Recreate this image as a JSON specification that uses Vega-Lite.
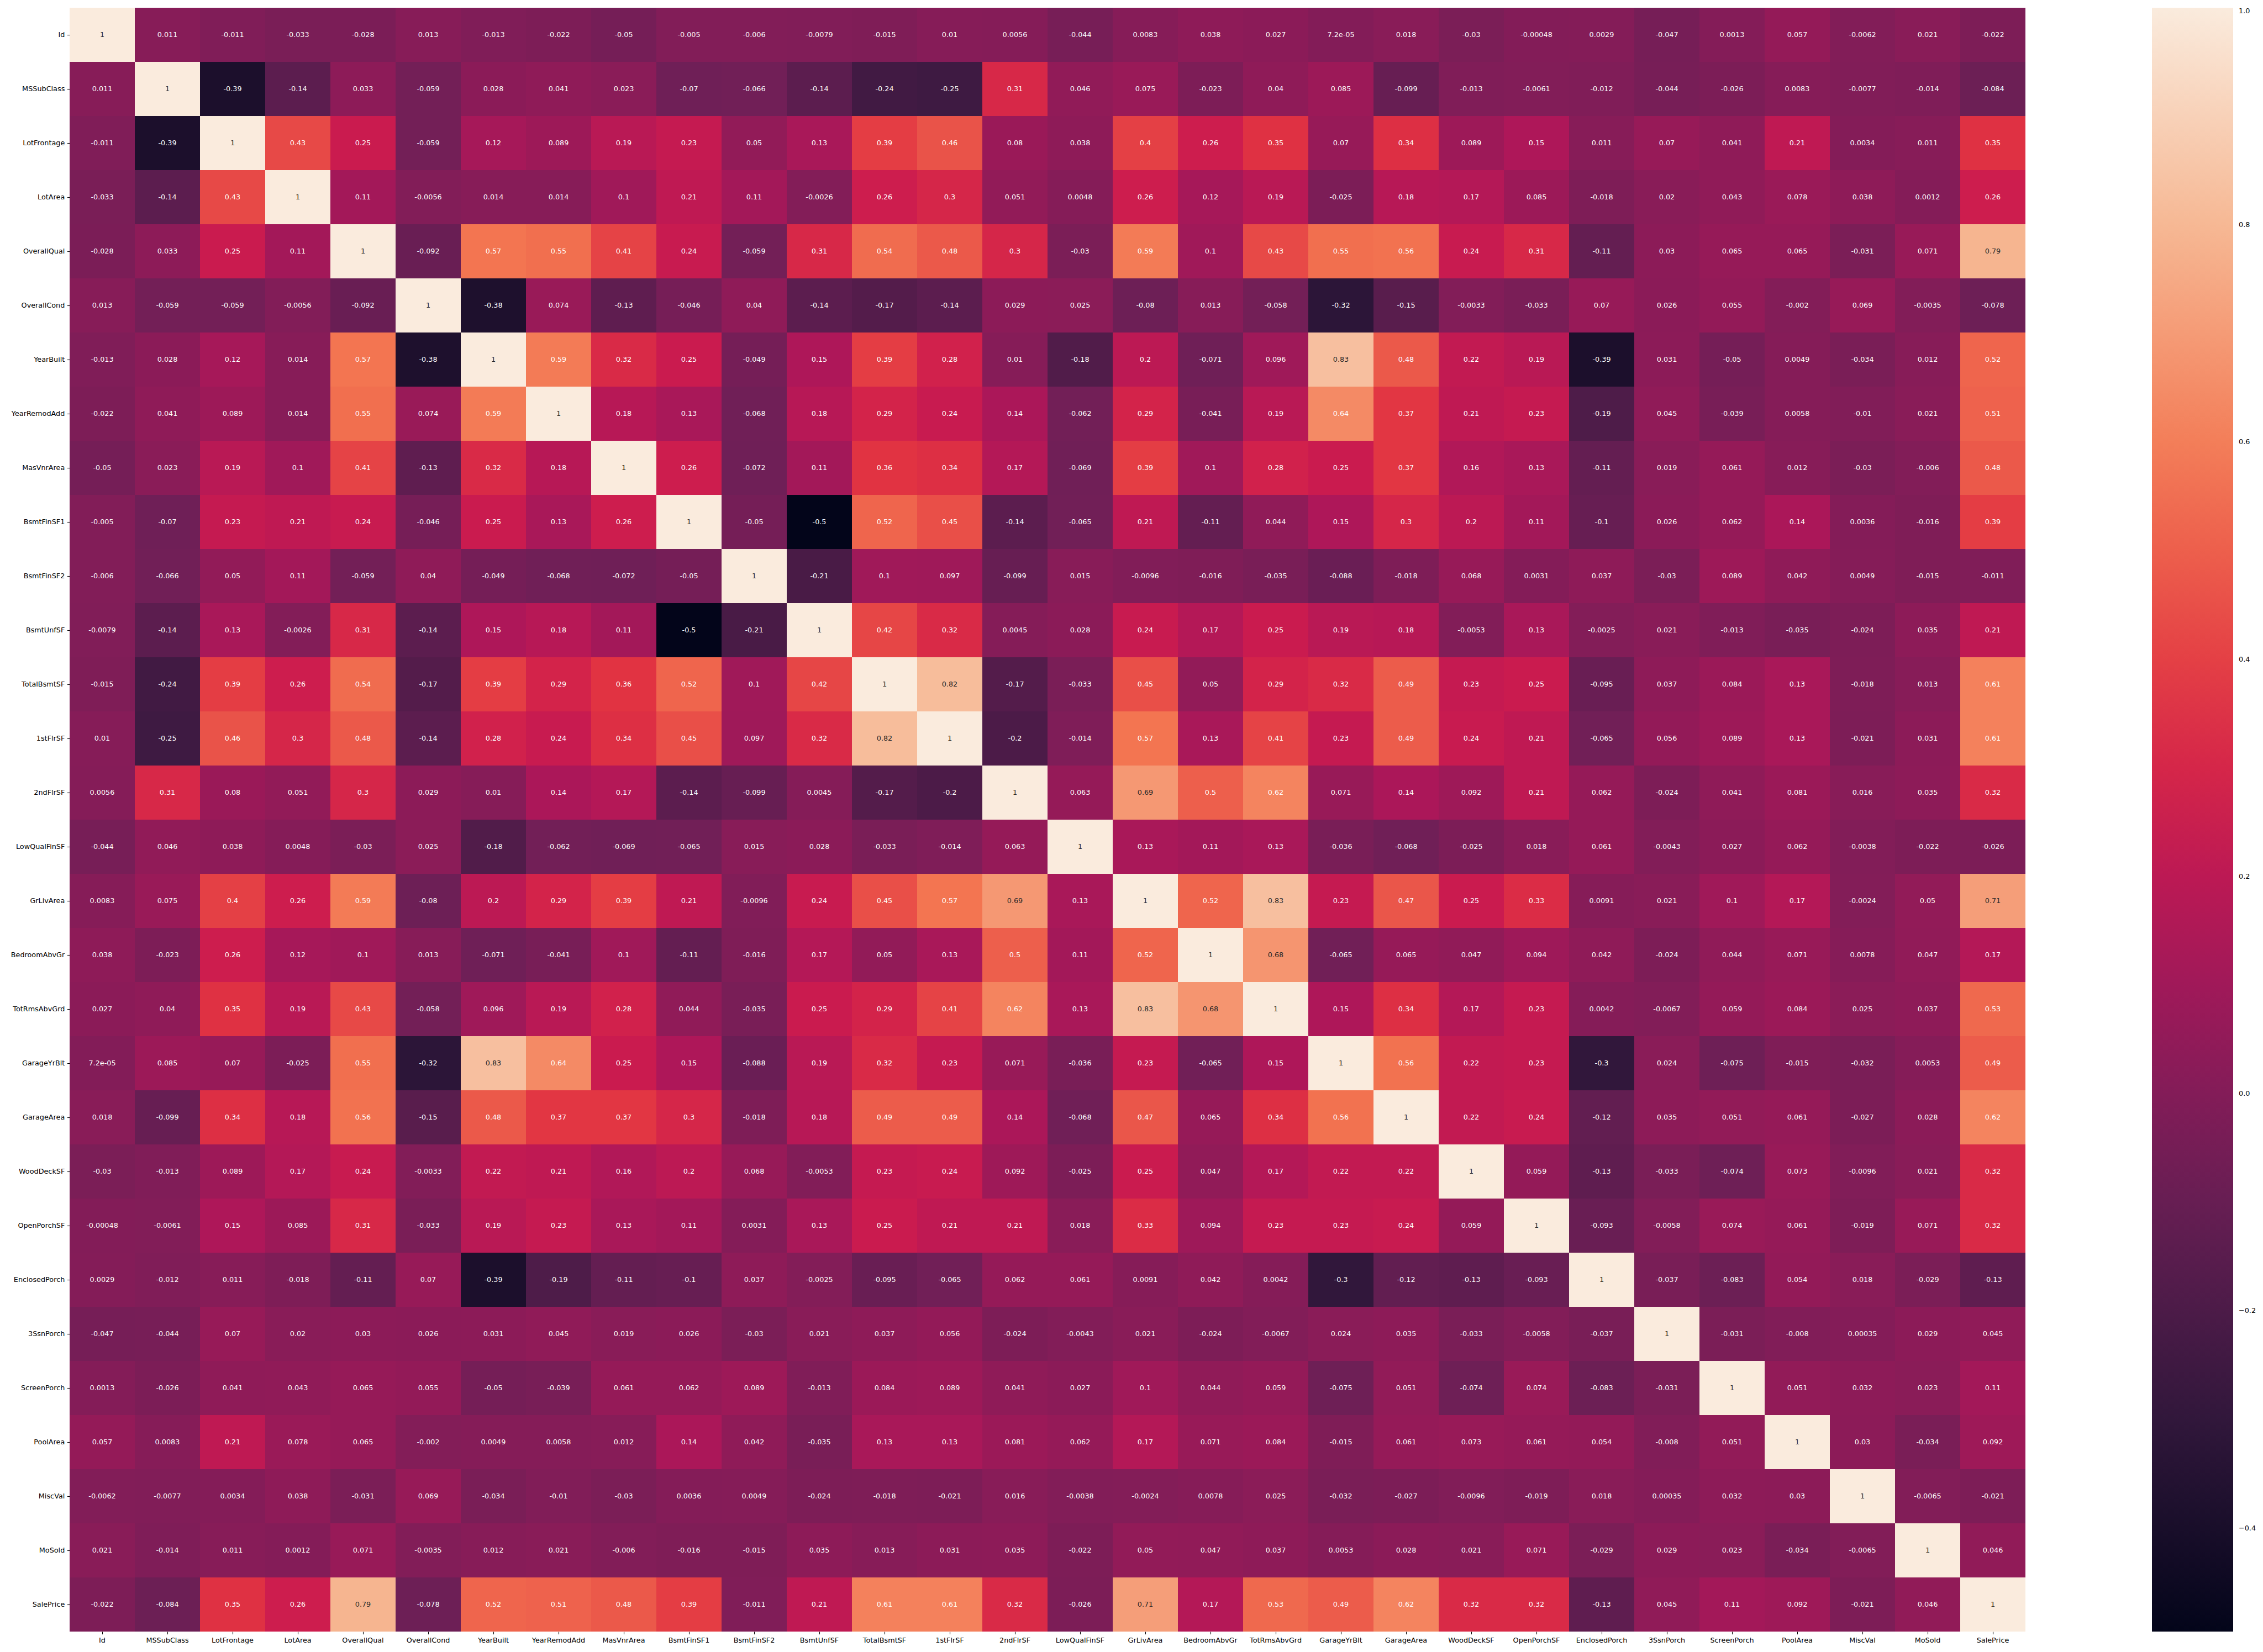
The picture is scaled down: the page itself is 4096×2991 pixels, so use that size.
{
"$schema": "https://vega.github.io/schema/vega-lite/v6.json",
"width": 3540,
"height": 2940,
"autosize": {"type": "none"},
"padding": {"left": 126, "top": 14, "right": 430, "bottom": 37},
"background": "white",
"config": {"view": {"stroke": null}, "font": "DejaVu Sans"},
"data": {"values": [
{"r":"Id","c":"Id","v":1,"t":"1"},{"r":"Id","c":"MSSubClass","v":0.011,"t":"0.011"},{"r":"Id","c":"LotFrontage","v":-0.011,"t":"-0.011"},{"r":"Id","c":"LotArea","v":-0.033,"t":"-0.033"},{"r":"Id","c":"OverallQual","v":-0.028,"t":"-0.028"},{"r":"Id","c":"OverallCond","v":0.013,"t":"0.013"},{"r":"Id","c":"YearBuilt","v":-0.013,"t":"-0.013"},{"r":"Id","c":"YearRemodAdd","v":-0.022,"t":"-0.022"},{"r":"Id","c":"MasVnrArea","v":-0.05,"t":"-0.05"},{"r":"Id","c":"BsmtFinSF1","v":-0.005,"t":"-0.005"},{"r":"Id","c":"BsmtFinSF2","v":-0.006,"t":"-0.006"},{"r":"Id","c":"BsmtUnfSF","v":-0.0079,"t":"-0.0079"},{"r":"Id","c":"TotalBsmtSF","v":-0.015,"t":"-0.015"},{"r":"Id","c":"1stFlrSF","v":0.01,"t":"0.01"},{"r":"Id","c":"2ndFlrSF","v":0.0056,"t":"0.0056"},{"r":"Id","c":"LowQualFinSF","v":-0.044,"t":"-0.044"},{"r":"Id","c":"GrLivArea","v":0.0083,"t":"0.0083"},{"r":"Id","c":"BedroomAbvGr","v":0.038,"t":"0.038"},{"r":"Id","c":"TotRmsAbvGrd","v":0.027,"t":"0.027"},{"r":"Id","c":"GarageYrBlt","v":7.2e-05,"t":"7.2e-05"},{"r":"Id","c":"GarageArea","v":0.018,"t":"0.018"},{"r":"Id","c":"WoodDeckSF","v":-0.03,"t":"-0.03"},{"r":"Id","c":"OpenPorchSF","v":-0.00048,"t":"-0.00048"},{"r":"Id","c":"EnclosedPorch","v":0.0029,"t":"0.0029"},{"r":"Id","c":"3SsnPorch","v":-0.047,"t":"-0.047"},{"r":"Id","c":"ScreenPorch","v":0.0013,"t":"0.0013"},{"r":"Id","c":"PoolArea","v":0.057,"t":"0.057"},{"r":"Id","c":"MiscVal","v":-0.0062,"t":"-0.0062"},{"r":"Id","c":"MoSold","v":0.021,"t":"0.021"},{"r":"Id","c":"SalePrice","v":-0.022,"t":"-0.022"},
{"r":"MSSubClass","c":"Id","v":0.011,"t":"0.011"},{"r":"MSSubClass","c":"MSSubClass","v":1,"t":"1"},{"r":"MSSubClass","c":"LotFrontage","v":-0.39,"t":"-0.39"},{"r":"MSSubClass","c":"LotArea","v":-0.14,"t":"-0.14"},{"r":"MSSubClass","c":"OverallQual","v":0.033,"t":"0.033"},{"r":"MSSubClass","c":"OverallCond","v":-0.059,"t":"-0.059"},{"r":"MSSubClass","c":"YearBuilt","v":0.028,"t":"0.028"},{"r":"MSSubClass","c":"YearRemodAdd","v":0.041,"t":"0.041"},{"r":"MSSubClass","c":"MasVnrArea","v":0.023,"t":"0.023"},{"r":"MSSubClass","c":"BsmtFinSF1","v":-0.07,"t":"-0.07"},{"r":"MSSubClass","c":"BsmtFinSF2","v":-0.066,"t":"-0.066"},{"r":"MSSubClass","c":"BsmtUnfSF","v":-0.14,"t":"-0.14"},{"r":"MSSubClass","c":"TotalBsmtSF","v":-0.24,"t":"-0.24"},{"r":"MSSubClass","c":"1stFlrSF","v":-0.25,"t":"-0.25"},{"r":"MSSubClass","c":"2ndFlrSF","v":0.31,"t":"0.31"},{"r":"MSSubClass","c":"LowQualFinSF","v":0.046,"t":"0.046"},{"r":"MSSubClass","c":"GrLivArea","v":0.075,"t":"0.075"},{"r":"MSSubClass","c":"BedroomAbvGr","v":-0.023,"t":"-0.023"},{"r":"MSSubClass","c":"TotRmsAbvGrd","v":0.04,"t":"0.04"},{"r":"MSSubClass","c":"GarageYrBlt","v":0.085,"t":"0.085"},{"r":"MSSubClass","c":"GarageArea","v":-0.099,"t":"-0.099"},{"r":"MSSubClass","c":"WoodDeckSF","v":-0.013,"t":"-0.013"},{"r":"MSSubClass","c":"OpenPorchSF","v":-0.0061,"t":"-0.0061"},{"r":"MSSubClass","c":"EnclosedPorch","v":-0.012,"t":"-0.012"},{"r":"MSSubClass","c":"3SsnPorch","v":-0.044,"t":"-0.044"},{"r":"MSSubClass","c":"ScreenPorch","v":-0.026,"t":"-0.026"},{"r":"MSSubClass","c":"PoolArea","v":0.0083,"t":"0.0083"},{"r":"MSSubClass","c":"MiscVal","v":-0.0077,"t":"-0.0077"},{"r":"MSSubClass","c":"MoSold","v":-0.014,"t":"-0.014"},{"r":"MSSubClass","c":"SalePrice","v":-0.084,"t":"-0.084"},
{"r":"LotFrontage","c":"Id","v":-0.011,"t":"-0.011"},{"r":"LotFrontage","c":"MSSubClass","v":-0.39,"t":"-0.39"},{"r":"LotFrontage","c":"LotFrontage","v":1,"t":"1"},{"r":"LotFrontage","c":"LotArea","v":0.43,"t":"0.43"},{"r":"LotFrontage","c":"OverallQual","v":0.25,"t":"0.25"},{"r":"LotFrontage","c":"OverallCond","v":-0.059,"t":"-0.059"},{"r":"LotFrontage","c":"YearBuilt","v":0.12,"t":"0.12"},{"r":"LotFrontage","c":"YearRemodAdd","v":0.089,"t":"0.089"},{"r":"LotFrontage","c":"MasVnrArea","v":0.19,"t":"0.19"},{"r":"LotFrontage","c":"BsmtFinSF1","v":0.23,"t":"0.23"},{"r":"LotFrontage","c":"BsmtFinSF2","v":0.05,"t":"0.05"},{"r":"LotFrontage","c":"BsmtUnfSF","v":0.13,"t":"0.13"},{"r":"LotFrontage","c":"TotalBsmtSF","v":0.39,"t":"0.39"},{"r":"LotFrontage","c":"1stFlrSF","v":0.46,"t":"0.46"},{"r":"LotFrontage","c":"2ndFlrSF","v":0.08,"t":"0.08"},{"r":"LotFrontage","c":"LowQualFinSF","v":0.038,"t":"0.038"},{"r":"LotFrontage","c":"GrLivArea","v":0.4,"t":"0.4"},{"r":"LotFrontage","c":"BedroomAbvGr","v":0.26,"t":"0.26"},{"r":"LotFrontage","c":"TotRmsAbvGrd","v":0.35,"t":"0.35"},{"r":"LotFrontage","c":"GarageYrBlt","v":0.07,"t":"0.07"},{"r":"LotFrontage","c":"GarageArea","v":0.34,"t":"0.34"},{"r":"LotFrontage","c":"WoodDeckSF","v":0.089,"t":"0.089"},{"r":"LotFrontage","c":"OpenPorchSF","v":0.15,"t":"0.15"},{"r":"LotFrontage","c":"EnclosedPorch","v":0.011,"t":"0.011"},{"r":"LotFrontage","c":"3SsnPorch","v":0.07,"t":"0.07"},{"r":"LotFrontage","c":"ScreenPorch","v":0.041,"t":"0.041"},{"r":"LotFrontage","c":"PoolArea","v":0.21,"t":"0.21"},{"r":"LotFrontage","c":"MiscVal","v":0.0034,"t":"0.0034"},{"r":"LotFrontage","c":"MoSold","v":0.011,"t":"0.011"},{"r":"LotFrontage","c":"SalePrice","v":0.35,"t":"0.35"},
{"r":"LotArea","c":"Id","v":-0.033,"t":"-0.033"},{"r":"LotArea","c":"MSSubClass","v":-0.14,"t":"-0.14"},{"r":"LotArea","c":"LotFrontage","v":0.43,"t":"0.43"},{"r":"LotArea","c":"LotArea","v":1,"t":"1"},{"r":"LotArea","c":"OverallQual","v":0.11,"t":"0.11"},{"r":"LotArea","c":"OverallCond","v":-0.0056,"t":"-0.0056"},{"r":"LotArea","c":"YearBuilt","v":0.014,"t":"0.014"},{"r":"LotArea","c":"YearRemodAdd","v":0.014,"t":"0.014"},{"r":"LotArea","c":"MasVnrArea","v":0.1,"t":"0.1"},{"r":"LotArea","c":"BsmtFinSF1","v":0.21,"t":"0.21"},{"r":"LotArea","c":"BsmtFinSF2","v":0.11,"t":"0.11"},{"r":"LotArea","c":"BsmtUnfSF","v":-0.0026,"t":"-0.0026"},{"r":"LotArea","c":"TotalBsmtSF","v":0.26,"t":"0.26"},{"r":"LotArea","c":"1stFlrSF","v":0.3,"t":"0.3"},{"r":"LotArea","c":"2ndFlrSF","v":0.051,"t":"0.051"},{"r":"LotArea","c":"LowQualFinSF","v":0.0048,"t":"0.0048"},{"r":"LotArea","c":"GrLivArea","v":0.26,"t":"0.26"},{"r":"LotArea","c":"BedroomAbvGr","v":0.12,"t":"0.12"},{"r":"LotArea","c":"TotRmsAbvGrd","v":0.19,"t":"0.19"},{"r":"LotArea","c":"GarageYrBlt","v":-0.025,"t":"-0.025"},{"r":"LotArea","c":"GarageArea","v":0.18,"t":"0.18"},{"r":"LotArea","c":"WoodDeckSF","v":0.17,"t":"0.17"},{"r":"LotArea","c":"OpenPorchSF","v":0.085,"t":"0.085"},{"r":"LotArea","c":"EnclosedPorch","v":-0.018,"t":"-0.018"},{"r":"LotArea","c":"3SsnPorch","v":0.02,"t":"0.02"},{"r":"LotArea","c":"ScreenPorch","v":0.043,"t":"0.043"},{"r":"LotArea","c":"PoolArea","v":0.078,"t":"0.078"},{"r":"LotArea","c":"MiscVal","v":0.038,"t":"0.038"},{"r":"LotArea","c":"MoSold","v":0.0012,"t":"0.0012"},{"r":"LotArea","c":"SalePrice","v":0.26,"t":"0.26"},
{"r":"OverallQual","c":"Id","v":-0.028,"t":"-0.028"},{"r":"OverallQual","c":"MSSubClass","v":0.033,"t":"0.033"},{"r":"OverallQual","c":"LotFrontage","v":0.25,"t":"0.25"},{"r":"OverallQual","c":"LotArea","v":0.11,"t":"0.11"},{"r":"OverallQual","c":"OverallQual","v":1,"t":"1"},{"r":"OverallQual","c":"OverallCond","v":-0.092,"t":"-0.092"},{"r":"OverallQual","c":"YearBuilt","v":0.57,"t":"0.57"},{"r":"OverallQual","c":"YearRemodAdd","v":0.55,"t":"0.55"},{"r":"OverallQual","c":"MasVnrArea","v":0.41,"t":"0.41"},{"r":"OverallQual","c":"BsmtFinSF1","v":0.24,"t":"0.24"},{"r":"OverallQual","c":"BsmtFinSF2","v":-0.059,"t":"-0.059"},{"r":"OverallQual","c":"BsmtUnfSF","v":0.31,"t":"0.31"},{"r":"OverallQual","c":"TotalBsmtSF","v":0.54,"t":"0.54"},{"r":"OverallQual","c":"1stFlrSF","v":0.48,"t":"0.48"},{"r":"OverallQual","c":"2ndFlrSF","v":0.3,"t":"0.3"},{"r":"OverallQual","c":"LowQualFinSF","v":-0.03,"t":"-0.03"},{"r":"OverallQual","c":"GrLivArea","v":0.59,"t":"0.59"},{"r":"OverallQual","c":"BedroomAbvGr","v":0.1,"t":"0.1"},{"r":"OverallQual","c":"TotRmsAbvGrd","v":0.43,"t":"0.43"},{"r":"OverallQual","c":"GarageYrBlt","v":0.55,"t":"0.55"},{"r":"OverallQual","c":"GarageArea","v":0.56,"t":"0.56"},{"r":"OverallQual","c":"WoodDeckSF","v":0.24,"t":"0.24"},{"r":"OverallQual","c":"OpenPorchSF","v":0.31,"t":"0.31"},{"r":"OverallQual","c":"EnclosedPorch","v":-0.11,"t":"-0.11"},{"r":"OverallQual","c":"3SsnPorch","v":0.03,"t":"0.03"},{"r":"OverallQual","c":"ScreenPorch","v":0.065,"t":"0.065"},{"r":"OverallQual","c":"PoolArea","v":0.065,"t":"0.065"},{"r":"OverallQual","c":"MiscVal","v":-0.031,"t":"-0.031"},{"r":"OverallQual","c":"MoSold","v":0.071,"t":"0.071"},{"r":"OverallQual","c":"SalePrice","v":0.79,"t":"0.79"},
{"r":"OverallCond","c":"Id","v":0.013,"t":"0.013"},{"r":"OverallCond","c":"MSSubClass","v":-0.059,"t":"-0.059"},{"r":"OverallCond","c":"LotFrontage","v":-0.059,"t":"-0.059"},{"r":"OverallCond","c":"LotArea","v":-0.0056,"t":"-0.0056"},{"r":"OverallCond","c":"OverallQual","v":-0.092,"t":"-0.092"},{"r":"OverallCond","c":"OverallCond","v":1,"t":"1"},{"r":"OverallCond","c":"YearBuilt","v":-0.38,"t":"-0.38"},{"r":"OverallCond","c":"YearRemodAdd","v":0.074,"t":"0.074"},{"r":"OverallCond","c":"MasVnrArea","v":-0.13,"t":"-0.13"},{"r":"OverallCond","c":"BsmtFinSF1","v":-0.046,"t":"-0.046"},{"r":"OverallCond","c":"BsmtFinSF2","v":0.04,"t":"0.04"},{"r":"OverallCond","c":"BsmtUnfSF","v":-0.14,"t":"-0.14"},{"r":"OverallCond","c":"TotalBsmtSF","v":-0.17,"t":"-0.17"},{"r":"OverallCond","c":"1stFlrSF","v":-0.14,"t":"-0.14"},{"r":"OverallCond","c":"2ndFlrSF","v":0.029,"t":"0.029"},{"r":"OverallCond","c":"LowQualFinSF","v":0.025,"t":"0.025"},{"r":"OverallCond","c":"GrLivArea","v":-0.08,"t":"-0.08"},{"r":"OverallCond","c":"BedroomAbvGr","v":0.013,"t":"0.013"},{"r":"OverallCond","c":"TotRmsAbvGrd","v":-0.058,"t":"-0.058"},{"r":"OverallCond","c":"GarageYrBlt","v":-0.32,"t":"-0.32"},{"r":"OverallCond","c":"GarageArea","v":-0.15,"t":"-0.15"},{"r":"OverallCond","c":"WoodDeckSF","v":-0.0033,"t":"-0.0033"},{"r":"OverallCond","c":"OpenPorchSF","v":-0.033,"t":"-0.033"},{"r":"OverallCond","c":"EnclosedPorch","v":0.07,"t":"0.07"},{"r":"OverallCond","c":"3SsnPorch","v":0.026,"t":"0.026"},{"r":"OverallCond","c":"ScreenPorch","v":0.055,"t":"0.055"},{"r":"OverallCond","c":"PoolArea","v":-0.002,"t":"-0.002"},{"r":"OverallCond","c":"MiscVal","v":0.069,"t":"0.069"},{"r":"OverallCond","c":"MoSold","v":-0.0035,"t":"-0.0035"},{"r":"OverallCond","c":"SalePrice","v":-0.078,"t":"-0.078"},
{"r":"YearBuilt","c":"Id","v":-0.013,"t":"-0.013"},{"r":"YearBuilt","c":"MSSubClass","v":0.028,"t":"0.028"},{"r":"YearBuilt","c":"LotFrontage","v":0.12,"t":"0.12"},{"r":"YearBuilt","c":"LotArea","v":0.014,"t":"0.014"},{"r":"YearBuilt","c":"OverallQual","v":0.57,"t":"0.57"},{"r":"YearBuilt","c":"OverallCond","v":-0.38,"t":"-0.38"},{"r":"YearBuilt","c":"YearBuilt","v":1,"t":"1"},{"r":"YearBuilt","c":"YearRemodAdd","v":0.59,"t":"0.59"},{"r":"YearBuilt","c":"MasVnrArea","v":0.32,"t":"0.32"},{"r":"YearBuilt","c":"BsmtFinSF1","v":0.25,"t":"0.25"},{"r":"YearBuilt","c":"BsmtFinSF2","v":-0.049,"t":"-0.049"},{"r":"YearBuilt","c":"BsmtUnfSF","v":0.15,"t":"0.15"},{"r":"YearBuilt","c":"TotalBsmtSF","v":0.39,"t":"0.39"},{"r":"YearBuilt","c":"1stFlrSF","v":0.28,"t":"0.28"},{"r":"YearBuilt","c":"2ndFlrSF","v":0.01,"t":"0.01"},{"r":"YearBuilt","c":"LowQualFinSF","v":-0.18,"t":"-0.18"},{"r":"YearBuilt","c":"GrLivArea","v":0.2,"t":"0.2"},{"r":"YearBuilt","c":"BedroomAbvGr","v":-0.071,"t":"-0.071"},{"r":"YearBuilt","c":"TotRmsAbvGrd","v":0.096,"t":"0.096"},{"r":"YearBuilt","c":"GarageYrBlt","v":0.83,"t":"0.83"},{"r":"YearBuilt","c":"GarageArea","v":0.48,"t":"0.48"},{"r":"YearBuilt","c":"WoodDeckSF","v":0.22,"t":"0.22"},{"r":"YearBuilt","c":"OpenPorchSF","v":0.19,"t":"0.19"},{"r":"YearBuilt","c":"EnclosedPorch","v":-0.39,"t":"-0.39"},{"r":"YearBuilt","c":"3SsnPorch","v":0.031,"t":"0.031"},{"r":"YearBuilt","c":"ScreenPorch","v":-0.05,"t":"-0.05"},{"r":"YearBuilt","c":"PoolArea","v":0.0049,"t":"0.0049"},{"r":"YearBuilt","c":"MiscVal","v":-0.034,"t":"-0.034"},{"r":"YearBuilt","c":"MoSold","v":0.012,"t":"0.012"},{"r":"YearBuilt","c":"SalePrice","v":0.52,"t":"0.52"},
{"r":"YearRemodAdd","c":"Id","v":-0.022,"t":"-0.022"},{"r":"YearRemodAdd","c":"MSSubClass","v":0.041,"t":"0.041"},{"r":"YearRemodAdd","c":"LotFrontage","v":0.089,"t":"0.089"},{"r":"YearRemodAdd","c":"LotArea","v":0.014,"t":"0.014"},{"r":"YearRemodAdd","c":"OverallQual","v":0.55,"t":"0.55"},{"r":"YearRemodAdd","c":"OverallCond","v":0.074,"t":"0.074"},{"r":"YearRemodAdd","c":"YearBuilt","v":0.59,"t":"0.59"},{"r":"YearRemodAdd","c":"YearRemodAdd","v":1,"t":"1"},{"r":"YearRemodAdd","c":"MasVnrArea","v":0.18,"t":"0.18"},{"r":"YearRemodAdd","c":"BsmtFinSF1","v":0.13,"t":"0.13"},{"r":"YearRemodAdd","c":"BsmtFinSF2","v":-0.068,"t":"-0.068"},{"r":"YearRemodAdd","c":"BsmtUnfSF","v":0.18,"t":"0.18"},{"r":"YearRemodAdd","c":"TotalBsmtSF","v":0.29,"t":"0.29"},{"r":"YearRemodAdd","c":"1stFlrSF","v":0.24,"t":"0.24"},{"r":"YearRemodAdd","c":"2ndFlrSF","v":0.14,"t":"0.14"},{"r":"YearRemodAdd","c":"LowQualFinSF","v":-0.062,"t":"-0.062"},{"r":"YearRemodAdd","c":"GrLivArea","v":0.29,"t":"0.29"},{"r":"YearRemodAdd","c":"BedroomAbvGr","v":-0.041,"t":"-0.041"},{"r":"YearRemodAdd","c":"TotRmsAbvGrd","v":0.19,"t":"0.19"},{"r":"YearRemodAdd","c":"GarageYrBlt","v":0.64,"t":"0.64"},{"r":"YearRemodAdd","c":"GarageArea","v":0.37,"t":"0.37"},{"r":"YearRemodAdd","c":"WoodDeckSF","v":0.21,"t":"0.21"},{"r":"YearRemodAdd","c":"OpenPorchSF","v":0.23,"t":"0.23"},{"r":"YearRemodAdd","c":"EnclosedPorch","v":-0.19,"t":"-0.19"},{"r":"YearRemodAdd","c":"3SsnPorch","v":0.045,"t":"0.045"},{"r":"YearRemodAdd","c":"ScreenPorch","v":-0.039,"t":"-0.039"},{"r":"YearRemodAdd","c":"PoolArea","v":0.0058,"t":"0.0058"},{"r":"YearRemodAdd","c":"MiscVal","v":-0.01,"t":"-0.01"},{"r":"YearRemodAdd","c":"MoSold","v":0.021,"t":"0.021"},{"r":"YearRemodAdd","c":"SalePrice","v":0.51,"t":"0.51"},
{"r":"MasVnrArea","c":"Id","v":-0.05,"t":"-0.05"},{"r":"MasVnrArea","c":"MSSubClass","v":0.023,"t":"0.023"},{"r":"MasVnrArea","c":"LotFrontage","v":0.19,"t":"0.19"},{"r":"MasVnrArea","c":"LotArea","v":0.1,"t":"0.1"},{"r":"MasVnrArea","c":"OverallQual","v":0.41,"t":"0.41"},{"r":"MasVnrArea","c":"OverallCond","v":-0.13,"t":"-0.13"},{"r":"MasVnrArea","c":"YearBuilt","v":0.32,"t":"0.32"},{"r":"MasVnrArea","c":"YearRemodAdd","v":0.18,"t":"0.18"},{"r":"MasVnrArea","c":"MasVnrArea","v":1,"t":"1"},{"r":"MasVnrArea","c":"BsmtFinSF1","v":0.26,"t":"0.26"},{"r":"MasVnrArea","c":"BsmtFinSF2","v":-0.072,"t":"-0.072"},{"r":"MasVnrArea","c":"BsmtUnfSF","v":0.11,"t":"0.11"},{"r":"MasVnrArea","c":"TotalBsmtSF","v":0.36,"t":"0.36"},{"r":"MasVnrArea","c":"1stFlrSF","v":0.34,"t":"0.34"},{"r":"MasVnrArea","c":"2ndFlrSF","v":0.17,"t":"0.17"},{"r":"MasVnrArea","c":"LowQualFinSF","v":-0.069,"t":"-0.069"},{"r":"MasVnrArea","c":"GrLivArea","v":0.39,"t":"0.39"},{"r":"MasVnrArea","c":"BedroomAbvGr","v":0.1,"t":"0.1"},{"r":"MasVnrArea","c":"TotRmsAbvGrd","v":0.28,"t":"0.28"},{"r":"MasVnrArea","c":"GarageYrBlt","v":0.25,"t":"0.25"},{"r":"MasVnrArea","c":"GarageArea","v":0.37,"t":"0.37"},{"r":"MasVnrArea","c":"WoodDeckSF","v":0.16,"t":"0.16"},{"r":"MasVnrArea","c":"OpenPorchSF","v":0.13,"t":"0.13"},{"r":"MasVnrArea","c":"EnclosedPorch","v":-0.11,"t":"-0.11"},{"r":"MasVnrArea","c":"3SsnPorch","v":0.019,"t":"0.019"},{"r":"MasVnrArea","c":"ScreenPorch","v":0.061,"t":"0.061"},{"r":"MasVnrArea","c":"PoolArea","v":0.012,"t":"0.012"},{"r":"MasVnrArea","c":"MiscVal","v":-0.03,"t":"-0.03"},{"r":"MasVnrArea","c":"MoSold","v":-0.006,"t":"-0.006"},{"r":"MasVnrArea","c":"SalePrice","v":0.48,"t":"0.48"},
{"r":"BsmtFinSF1","c":"Id","v":-0.005,"t":"-0.005"},{"r":"BsmtFinSF1","c":"MSSubClass","v":-0.07,"t":"-0.07"},{"r":"BsmtFinSF1","c":"LotFrontage","v":0.23,"t":"0.23"},{"r":"BsmtFinSF1","c":"LotArea","v":0.21,"t":"0.21"},{"r":"BsmtFinSF1","c":"OverallQual","v":0.24,"t":"0.24"},{"r":"BsmtFinSF1","c":"OverallCond","v":-0.046,"t":"-0.046"},{"r":"BsmtFinSF1","c":"YearBuilt","v":0.25,"t":"0.25"},{"r":"BsmtFinSF1","c":"YearRemodAdd","v":0.13,"t":"0.13"},{"r":"BsmtFinSF1","c":"MasVnrArea","v":0.26,"t":"0.26"},{"r":"BsmtFinSF1","c":"BsmtFinSF1","v":1,"t":"1"},{"r":"BsmtFinSF1","c":"BsmtFinSF2","v":-0.05,"t":"-0.05"},{"r":"BsmtFinSF1","c":"BsmtUnfSF","v":-0.495,"t":"-0.5"},{"r":"BsmtFinSF1","c":"TotalBsmtSF","v":0.52,"t":"0.52"},{"r":"BsmtFinSF1","c":"1stFlrSF","v":0.45,"t":"0.45"},{"r":"BsmtFinSF1","c":"2ndFlrSF","v":-0.14,"t":"-0.14"},{"r":"BsmtFinSF1","c":"LowQualFinSF","v":-0.065,"t":"-0.065"},{"r":"BsmtFinSF1","c":"GrLivArea","v":0.21,"t":"0.21"},{"r":"BsmtFinSF1","c":"BedroomAbvGr","v":-0.11,"t":"-0.11"},{"r":"BsmtFinSF1","c":"TotRmsAbvGrd","v":0.044,"t":"0.044"},{"r":"BsmtFinSF1","c":"GarageYrBlt","v":0.15,"t":"0.15"},{"r":"BsmtFinSF1","c":"GarageArea","v":0.3,"t":"0.3"},{"r":"BsmtFinSF1","c":"WoodDeckSF","v":0.2,"t":"0.2"},{"r":"BsmtFinSF1","c":"OpenPorchSF","v":0.11,"t":"0.11"},{"r":"BsmtFinSF1","c":"EnclosedPorch","v":-0.1,"t":"-0.1"},{"r":"BsmtFinSF1","c":"3SsnPorch","v":0.026,"t":"0.026"},{"r":"BsmtFinSF1","c":"ScreenPorch","v":0.062,"t":"0.062"},{"r":"BsmtFinSF1","c":"PoolArea","v":0.14,"t":"0.14"},{"r":"BsmtFinSF1","c":"MiscVal","v":0.0036,"t":"0.0036"},{"r":"BsmtFinSF1","c":"MoSold","v":-0.016,"t":"-0.016"},{"r":"BsmtFinSF1","c":"SalePrice","v":0.39,"t":"0.39"},
{"r":"BsmtFinSF2","c":"Id","v":-0.006,"t":"-0.006"},{"r":"BsmtFinSF2","c":"MSSubClass","v":-0.066,"t":"-0.066"},{"r":"BsmtFinSF2","c":"LotFrontage","v":0.05,"t":"0.05"},{"r":"BsmtFinSF2","c":"LotArea","v":0.11,"t":"0.11"},{"r":"BsmtFinSF2","c":"OverallQual","v":-0.059,"t":"-0.059"},{"r":"BsmtFinSF2","c":"OverallCond","v":0.04,"t":"0.04"},{"r":"BsmtFinSF2","c":"YearBuilt","v":-0.049,"t":"-0.049"},{"r":"BsmtFinSF2","c":"YearRemodAdd","v":-0.068,"t":"-0.068"},{"r":"BsmtFinSF2","c":"MasVnrArea","v":-0.072,"t":"-0.072"},{"r":"BsmtFinSF2","c":"BsmtFinSF1","v":-0.05,"t":"-0.05"},{"r":"BsmtFinSF2","c":"BsmtFinSF2","v":1,"t":"1"},{"r":"BsmtFinSF2","c":"BsmtUnfSF","v":-0.21,"t":"-0.21"},{"r":"BsmtFinSF2","c":"TotalBsmtSF","v":0.1,"t":"0.1"},{"r":"BsmtFinSF2","c":"1stFlrSF","v":0.097,"t":"0.097"},{"r":"BsmtFinSF2","c":"2ndFlrSF","v":-0.099,"t":"-0.099"},{"r":"BsmtFinSF2","c":"LowQualFinSF","v":0.015,"t":"0.015"},{"r":"BsmtFinSF2","c":"GrLivArea","v":-0.0096,"t":"-0.0096"},{"r":"BsmtFinSF2","c":"BedroomAbvGr","v":-0.016,"t":"-0.016"},{"r":"BsmtFinSF2","c":"TotRmsAbvGrd","v":-0.035,"t":"-0.035"},{"r":"BsmtFinSF2","c":"GarageYrBlt","v":-0.088,"t":"-0.088"},{"r":"BsmtFinSF2","c":"GarageArea","v":-0.018,"t":"-0.018"},{"r":"BsmtFinSF2","c":"WoodDeckSF","v":0.068,"t":"0.068"},{"r":"BsmtFinSF2","c":"OpenPorchSF","v":0.0031,"t":"0.0031"},{"r":"BsmtFinSF2","c":"EnclosedPorch","v":0.037,"t":"0.037"},{"r":"BsmtFinSF2","c":"3SsnPorch","v":-0.03,"t":"-0.03"},{"r":"BsmtFinSF2","c":"ScreenPorch","v":0.089,"t":"0.089"},{"r":"BsmtFinSF2","c":"PoolArea","v":0.042,"t":"0.042"},{"r":"BsmtFinSF2","c":"MiscVal","v":0.0049,"t":"0.0049"},{"r":"BsmtFinSF2","c":"MoSold","v":-0.015,"t":"-0.015"},{"r":"BsmtFinSF2","c":"SalePrice","v":-0.011,"t":"-0.011"},
{"r":"BsmtUnfSF","c":"Id","v":-0.0079,"t":"-0.0079"},{"r":"BsmtUnfSF","c":"MSSubClass","v":-0.14,"t":"-0.14"},{"r":"BsmtUnfSF","c":"LotFrontage","v":0.13,"t":"0.13"},{"r":"BsmtUnfSF","c":"LotArea","v":-0.0026,"t":"-0.0026"},{"r":"BsmtUnfSF","c":"OverallQual","v":0.31,"t":"0.31"},{"r":"BsmtUnfSF","c":"OverallCond","v":-0.14,"t":"-0.14"},{"r":"BsmtUnfSF","c":"YearBuilt","v":0.15,"t":"0.15"},{"r":"BsmtUnfSF","c":"YearRemodAdd","v":0.18,"t":"0.18"},{"r":"BsmtUnfSF","c":"MasVnrArea","v":0.11,"t":"0.11"},{"r":"BsmtUnfSF","c":"BsmtFinSF1","v":-0.495,"t":"-0.5"},{"r":"BsmtUnfSF","c":"BsmtFinSF2","v":-0.21,"t":"-0.21"},{"r":"BsmtUnfSF","c":"BsmtUnfSF","v":1,"t":"1"},{"r":"BsmtUnfSF","c":"TotalBsmtSF","v":0.42,"t":"0.42"},{"r":"BsmtUnfSF","c":"1stFlrSF","v":0.32,"t":"0.32"},{"r":"BsmtUnfSF","c":"2ndFlrSF","v":0.0045,"t":"0.0045"},{"r":"BsmtUnfSF","c":"LowQualFinSF","v":0.028,"t":"0.028"},{"r":"BsmtUnfSF","c":"GrLivArea","v":0.24,"t":"0.24"},{"r":"BsmtUnfSF","c":"BedroomAbvGr","v":0.17,"t":"0.17"},{"r":"BsmtUnfSF","c":"TotRmsAbvGrd","v":0.25,"t":"0.25"},{"r":"BsmtUnfSF","c":"GarageYrBlt","v":0.19,"t":"0.19"},{"r":"BsmtUnfSF","c":"GarageArea","v":0.18,"t":"0.18"},{"r":"BsmtUnfSF","c":"WoodDeckSF","v":-0.0053,"t":"-0.0053"},{"r":"BsmtUnfSF","c":"OpenPorchSF","v":0.13,"t":"0.13"},{"r":"BsmtUnfSF","c":"EnclosedPorch","v":-0.0025,"t":"-0.0025"},{"r":"BsmtUnfSF","c":"3SsnPorch","v":0.021,"t":"0.021"},{"r":"BsmtUnfSF","c":"ScreenPorch","v":-0.013,"t":"-0.013"},{"r":"BsmtUnfSF","c":"PoolArea","v":-0.035,"t":"-0.035"},{"r":"BsmtUnfSF","c":"MiscVal","v":-0.024,"t":"-0.024"},{"r":"BsmtUnfSF","c":"MoSold","v":0.035,"t":"0.035"},{"r":"BsmtUnfSF","c":"SalePrice","v":0.21,"t":"0.21"},
{"r":"TotalBsmtSF","c":"Id","v":-0.015,"t":"-0.015"},{"r":"TotalBsmtSF","c":"MSSubClass","v":-0.24,"t":"-0.24"},{"r":"TotalBsmtSF","c":"LotFrontage","v":0.39,"t":"0.39"},{"r":"TotalBsmtSF","c":"LotArea","v":0.26,"t":"0.26"},{"r":"TotalBsmtSF","c":"OverallQual","v":0.54,"t":"0.54"},{"r":"TotalBsmtSF","c":"OverallCond","v":-0.17,"t":"-0.17"},{"r":"TotalBsmtSF","c":"YearBuilt","v":0.39,"t":"0.39"},{"r":"TotalBsmtSF","c":"YearRemodAdd","v":0.29,"t":"0.29"},{"r":"TotalBsmtSF","c":"MasVnrArea","v":0.36,"t":"0.36"},{"r":"TotalBsmtSF","c":"BsmtFinSF1","v":0.52,"t":"0.52"},{"r":"TotalBsmtSF","c":"BsmtFinSF2","v":0.1,"t":"0.1"},{"r":"TotalBsmtSF","c":"BsmtUnfSF","v":0.42,"t":"0.42"},{"r":"TotalBsmtSF","c":"TotalBsmtSF","v":1,"t":"1"},{"r":"TotalBsmtSF","c":"1stFlrSF","v":0.82,"t":"0.82"},{"r":"TotalBsmtSF","c":"2ndFlrSF","v":-0.17,"t":"-0.17"},{"r":"TotalBsmtSF","c":"LowQualFinSF","v":-0.033,"t":"-0.033"},{"r":"TotalBsmtSF","c":"GrLivArea","v":0.45,"t":"0.45"},{"r":"TotalBsmtSF","c":"BedroomAbvGr","v":0.05,"t":"0.05"},{"r":"TotalBsmtSF","c":"TotRmsAbvGrd","v":0.29,"t":"0.29"},{"r":"TotalBsmtSF","c":"GarageYrBlt","v":0.32,"t":"0.32"},{"r":"TotalBsmtSF","c":"GarageArea","v":0.49,"t":"0.49"},{"r":"TotalBsmtSF","c":"WoodDeckSF","v":0.23,"t":"0.23"},{"r":"TotalBsmtSF","c":"OpenPorchSF","v":0.25,"t":"0.25"},{"r":"TotalBsmtSF","c":"EnclosedPorch","v":-0.095,"t":"-0.095"},{"r":"TotalBsmtSF","c":"3SsnPorch","v":0.037,"t":"0.037"},{"r":"TotalBsmtSF","c":"ScreenPorch","v":0.084,"t":"0.084"},{"r":"TotalBsmtSF","c":"PoolArea","v":0.13,"t":"0.13"},{"r":"TotalBsmtSF","c":"MiscVal","v":-0.018,"t":"-0.018"},{"r":"TotalBsmtSF","c":"MoSold","v":0.013,"t":"0.013"},{"r":"TotalBsmtSF","c":"SalePrice","v":0.61,"t":"0.61"},
{"r":"1stFlrSF","c":"Id","v":0.01,"t":"0.01"},{"r":"1stFlrSF","c":"MSSubClass","v":-0.25,"t":"-0.25"},{"r":"1stFlrSF","c":"LotFrontage","v":0.46,"t":"0.46"},{"r":"1stFlrSF","c":"LotArea","v":0.3,"t":"0.3"},{"r":"1stFlrSF","c":"OverallQual","v":0.48,"t":"0.48"},{"r":"1stFlrSF","c":"OverallCond","v":-0.14,"t":"-0.14"},{"r":"1stFlrSF","c":"YearBuilt","v":0.28,"t":"0.28"},{"r":"1stFlrSF","c":"YearRemodAdd","v":0.24,"t":"0.24"},{"r":"1stFlrSF","c":"MasVnrArea","v":0.34,"t":"0.34"},{"r":"1stFlrSF","c":"BsmtFinSF1","v":0.45,"t":"0.45"},{"r":"1stFlrSF","c":"BsmtFinSF2","v":0.097,"t":"0.097"},{"r":"1stFlrSF","c":"BsmtUnfSF","v":0.32,"t":"0.32"},{"r":"1stFlrSF","c":"TotalBsmtSF","v":0.82,"t":"0.82"},{"r":"1stFlrSF","c":"1stFlrSF","v":1,"t":"1"},{"r":"1stFlrSF","c":"2ndFlrSF","v":-0.2,"t":"-0.2"},{"r":"1stFlrSF","c":"LowQualFinSF","v":-0.014,"t":"-0.014"},{"r":"1stFlrSF","c":"GrLivArea","v":0.57,"t":"0.57"},{"r":"1stFlrSF","c":"BedroomAbvGr","v":0.13,"t":"0.13"},{"r":"1stFlrSF","c":"TotRmsAbvGrd","v":0.41,"t":"0.41"},{"r":"1stFlrSF","c":"GarageYrBlt","v":0.23,"t":"0.23"},{"r":"1stFlrSF","c":"GarageArea","v":0.49,"t":"0.49"},{"r":"1stFlrSF","c":"WoodDeckSF","v":0.24,"t":"0.24"},{"r":"1stFlrSF","c":"OpenPorchSF","v":0.21,"t":"0.21"},{"r":"1stFlrSF","c":"EnclosedPorch","v":-0.065,"t":"-0.065"},{"r":"1stFlrSF","c":"3SsnPorch","v":0.056,"t":"0.056"},{"r":"1stFlrSF","c":"ScreenPorch","v":0.089,"t":"0.089"},{"r":"1stFlrSF","c":"PoolArea","v":0.13,"t":"0.13"},{"r":"1stFlrSF","c":"MiscVal","v":-0.021,"t":"-0.021"},{"r":"1stFlrSF","c":"MoSold","v":0.031,"t":"0.031"},{"r":"1stFlrSF","c":"SalePrice","v":0.61,"t":"0.61"},
{"r":"2ndFlrSF","c":"Id","v":0.0056,"t":"0.0056"},{"r":"2ndFlrSF","c":"MSSubClass","v":0.31,"t":"0.31"},{"r":"2ndFlrSF","c":"LotFrontage","v":0.08,"t":"0.08"},{"r":"2ndFlrSF","c":"LotArea","v":0.051,"t":"0.051"},{"r":"2ndFlrSF","c":"OverallQual","v":0.3,"t":"0.3"},{"r":"2ndFlrSF","c":"OverallCond","v":0.029,"t":"0.029"},{"r":"2ndFlrSF","c":"YearBuilt","v":0.01,"t":"0.01"},{"r":"2ndFlrSF","c":"YearRemodAdd","v":0.14,"t":"0.14"},{"r":"2ndFlrSF","c":"MasVnrArea","v":0.17,"t":"0.17"},{"r":"2ndFlrSF","c":"BsmtFinSF1","v":-0.14,"t":"-0.14"},{"r":"2ndFlrSF","c":"BsmtFinSF2","v":-0.099,"t":"-0.099"},{"r":"2ndFlrSF","c":"BsmtUnfSF","v":0.0045,"t":"0.0045"},{"r":"2ndFlrSF","c":"TotalBsmtSF","v":-0.17,"t":"-0.17"},{"r":"2ndFlrSF","c":"1stFlrSF","v":-0.2,"t":"-0.2"},{"r":"2ndFlrSF","c":"2ndFlrSF","v":1,"t":"1"},{"r":"2ndFlrSF","c":"LowQualFinSF","v":0.063,"t":"0.063"},{"r":"2ndFlrSF","c":"GrLivArea","v":0.69,"t":"0.69"},{"r":"2ndFlrSF","c":"BedroomAbvGr","v":0.5,"t":"0.5"},{"r":"2ndFlrSF","c":"TotRmsAbvGrd","v":0.62,"t":"0.62"},{"r":"2ndFlrSF","c":"GarageYrBlt","v":0.071,"t":"0.071"},{"r":"2ndFlrSF","c":"GarageArea","v":0.14,"t":"0.14"},{"r":"2ndFlrSF","c":"WoodDeckSF","v":0.092,"t":"0.092"},{"r":"2ndFlrSF","c":"OpenPorchSF","v":0.21,"t":"0.21"},{"r":"2ndFlrSF","c":"EnclosedPorch","v":0.062,"t":"0.062"},{"r":"2ndFlrSF","c":"3SsnPorch","v":-0.024,"t":"-0.024"},{"r":"2ndFlrSF","c":"ScreenPorch","v":0.041,"t":"0.041"},{"r":"2ndFlrSF","c":"PoolArea","v":0.081,"t":"0.081"},{"r":"2ndFlrSF","c":"MiscVal","v":0.016,"t":"0.016"},{"r":"2ndFlrSF","c":"MoSold","v":0.035,"t":"0.035"},{"r":"2ndFlrSF","c":"SalePrice","v":0.32,"t":"0.32"},
{"r":"LowQualFinSF","c":"Id","v":-0.044,"t":"-0.044"},{"r":"LowQualFinSF","c":"MSSubClass","v":0.046,"t":"0.046"},{"r":"LowQualFinSF","c":"LotFrontage","v":0.038,"t":"0.038"},{"r":"LowQualFinSF","c":"LotArea","v":0.0048,"t":"0.0048"},{"r":"LowQualFinSF","c":"OverallQual","v":-0.03,"t":"-0.03"},{"r":"LowQualFinSF","c":"OverallCond","v":0.025,"t":"0.025"},{"r":"LowQualFinSF","c":"YearBuilt","v":-0.18,"t":"-0.18"},{"r":"LowQualFinSF","c":"YearRemodAdd","v":-0.062,"t":"-0.062"},{"r":"LowQualFinSF","c":"MasVnrArea","v":-0.069,"t":"-0.069"},{"r":"LowQualFinSF","c":"BsmtFinSF1","v":-0.065,"t":"-0.065"},{"r":"LowQualFinSF","c":"BsmtFinSF2","v":0.015,"t":"0.015"},{"r":"LowQualFinSF","c":"BsmtUnfSF","v":0.028,"t":"0.028"},{"r":"LowQualFinSF","c":"TotalBsmtSF","v":-0.033,"t":"-0.033"},{"r":"LowQualFinSF","c":"1stFlrSF","v":-0.014,"t":"-0.014"},{"r":"LowQualFinSF","c":"2ndFlrSF","v":0.063,"t":"0.063"},{"r":"LowQualFinSF","c":"LowQualFinSF","v":1,"t":"1"},{"r":"LowQualFinSF","c":"GrLivArea","v":0.13,"t":"0.13"},{"r":"LowQualFinSF","c":"BedroomAbvGr","v":0.11,"t":"0.11"},{"r":"LowQualFinSF","c":"TotRmsAbvGrd","v":0.13,"t":"0.13"},{"r":"LowQualFinSF","c":"GarageYrBlt","v":-0.036,"t":"-0.036"},{"r":"LowQualFinSF","c":"GarageArea","v":-0.068,"t":"-0.068"},{"r":"LowQualFinSF","c":"WoodDeckSF","v":-0.025,"t":"-0.025"},{"r":"LowQualFinSF","c":"OpenPorchSF","v":0.018,"t":"0.018"},{"r":"LowQualFinSF","c":"EnclosedPorch","v":0.061,"t":"0.061"},{"r":"LowQualFinSF","c":"3SsnPorch","v":-0.0043,"t":"-0.0043"},{"r":"LowQualFinSF","c":"ScreenPorch","v":0.027,"t":"0.027"},{"r":"LowQualFinSF","c":"PoolArea","v":0.062,"t":"0.062"},{"r":"LowQualFinSF","c":"MiscVal","v":-0.0038,"t":"-0.0038"},{"r":"LowQualFinSF","c":"MoSold","v":-0.022,"t":"-0.022"},{"r":"LowQualFinSF","c":"SalePrice","v":-0.026,"t":"-0.026"},
{"r":"GrLivArea","c":"Id","v":0.0083,"t":"0.0083"},{"r":"GrLivArea","c":"MSSubClass","v":0.075,"t":"0.075"},{"r":"GrLivArea","c":"LotFrontage","v":0.4,"t":"0.4"},{"r":"GrLivArea","c":"LotArea","v":0.26,"t":"0.26"},{"r":"GrLivArea","c":"OverallQual","v":0.59,"t":"0.59"},{"r":"GrLivArea","c":"OverallCond","v":-0.08,"t":"-0.08"},{"r":"GrLivArea","c":"YearBuilt","v":0.2,"t":"0.2"},{"r":"GrLivArea","c":"YearRemodAdd","v":0.29,"t":"0.29"},{"r":"GrLivArea","c":"MasVnrArea","v":0.39,"t":"0.39"},{"r":"GrLivArea","c":"BsmtFinSF1","v":0.21,"t":"0.21"},{"r":"GrLivArea","c":"BsmtFinSF2","v":-0.0096,"t":"-0.0096"},{"r":"GrLivArea","c":"BsmtUnfSF","v":0.24,"t":"0.24"},{"r":"GrLivArea","c":"TotalBsmtSF","v":0.45,"t":"0.45"},{"r":"GrLivArea","c":"1stFlrSF","v":0.57,"t":"0.57"},{"r":"GrLivArea","c":"2ndFlrSF","v":0.69,"t":"0.69"},{"r":"GrLivArea","c":"LowQualFinSF","v":0.13,"t":"0.13"},{"r":"GrLivArea","c":"GrLivArea","v":1,"t":"1"},{"r":"GrLivArea","c":"BedroomAbvGr","v":0.52,"t":"0.52"},{"r":"GrLivArea","c":"TotRmsAbvGrd","v":0.83,"t":"0.83"},{"r":"GrLivArea","c":"GarageYrBlt","v":0.23,"t":"0.23"},{"r":"GrLivArea","c":"GarageArea","v":0.47,"t":"0.47"},{"r":"GrLivArea","c":"WoodDeckSF","v":0.25,"t":"0.25"},{"r":"GrLivArea","c":"OpenPorchSF","v":0.33,"t":"0.33"},{"r":"GrLivArea","c":"EnclosedPorch","v":0.0091,"t":"0.0091"},{"r":"GrLivArea","c":"3SsnPorch","v":0.021,"t":"0.021"},{"r":"GrLivArea","c":"ScreenPorch","v":0.1,"t":"0.1"},{"r":"GrLivArea","c":"PoolArea","v":0.17,"t":"0.17"},{"r":"GrLivArea","c":"MiscVal","v":-0.0024,"t":"-0.0024"},{"r":"GrLivArea","c":"MoSold","v":0.05,"t":"0.05"},{"r":"GrLivArea","c":"SalePrice","v":0.71,"t":"0.71"},
{"r":"BedroomAbvGr","c":"Id","v":0.038,"t":"0.038"},{"r":"BedroomAbvGr","c":"MSSubClass","v":-0.023,"t":"-0.023"},{"r":"BedroomAbvGr","c":"LotFrontage","v":0.26,"t":"0.26"},{"r":"BedroomAbvGr","c":"LotArea","v":0.12,"t":"0.12"},{"r":"BedroomAbvGr","c":"OverallQual","v":0.1,"t":"0.1"},{"r":"BedroomAbvGr","c":"OverallCond","v":0.013,"t":"0.013"},{"r":"BedroomAbvGr","c":"YearBuilt","v":-0.071,"t":"-0.071"},{"r":"BedroomAbvGr","c":"YearRemodAdd","v":-0.041,"t":"-0.041"},{"r":"BedroomAbvGr","c":"MasVnrArea","v":0.1,"t":"0.1"},{"r":"BedroomAbvGr","c":"BsmtFinSF1","v":-0.11,"t":"-0.11"},{"r":"BedroomAbvGr","c":"BsmtFinSF2","v":-0.016,"t":"-0.016"},{"r":"BedroomAbvGr","c":"BsmtUnfSF","v":0.17,"t":"0.17"},{"r":"BedroomAbvGr","c":"TotalBsmtSF","v":0.05,"t":"0.05"},{"r":"BedroomAbvGr","c":"1stFlrSF","v":0.13,"t":"0.13"},{"r":"BedroomAbvGr","c":"2ndFlrSF","v":0.5,"t":"0.5"},{"r":"BedroomAbvGr","c":"LowQualFinSF","v":0.11,"t":"0.11"},{"r":"BedroomAbvGr","c":"GrLivArea","v":0.52,"t":"0.52"},{"r":"BedroomAbvGr","c":"BedroomAbvGr","v":1,"t":"1"},{"r":"BedroomAbvGr","c":"TotRmsAbvGrd","v":0.68,"t":"0.68"},{"r":"BedroomAbvGr","c":"GarageYrBlt","v":-0.065,"t":"-0.065"},{"r":"BedroomAbvGr","c":"GarageArea","v":0.065,"t":"0.065"},{"r":"BedroomAbvGr","c":"WoodDeckSF","v":0.047,"t":"0.047"},{"r":"BedroomAbvGr","c":"OpenPorchSF","v":0.094,"t":"0.094"},{"r":"BedroomAbvGr","c":"EnclosedPorch","v":0.042,"t":"0.042"},{"r":"BedroomAbvGr","c":"3SsnPorch","v":-0.024,"t":"-0.024"},{"r":"BedroomAbvGr","c":"ScreenPorch","v":0.044,"t":"0.044"},{"r":"BedroomAbvGr","c":"PoolArea","v":0.071,"t":"0.071"},{"r":"BedroomAbvGr","c":"MiscVal","v":0.0078,"t":"0.0078"},{"r":"BedroomAbvGr","c":"MoSold","v":0.047,"t":"0.047"},{"r":"BedroomAbvGr","c":"SalePrice","v":0.17,"t":"0.17"},
{"r":"TotRmsAbvGrd","c":"Id","v":0.027,"t":"0.027"},{"r":"TotRmsAbvGrd","c":"MSSubClass","v":0.04,"t":"0.04"},{"r":"TotRmsAbvGrd","c":"LotFrontage","v":0.35,"t":"0.35"},{"r":"TotRmsAbvGrd","c":"LotArea","v":0.19,"t":"0.19"},{"r":"TotRmsAbvGrd","c":"OverallQual","v":0.43,"t":"0.43"},{"r":"TotRmsAbvGrd","c":"OverallCond","v":-0.058,"t":"-0.058"},{"r":"TotRmsAbvGrd","c":"YearBuilt","v":0.096,"t":"0.096"},{"r":"TotRmsAbvGrd","c":"YearRemodAdd","v":0.19,"t":"0.19"},{"r":"TotRmsAbvGrd","c":"MasVnrArea","v":0.28,"t":"0.28"},{"r":"TotRmsAbvGrd","c":"BsmtFinSF1","v":0.044,"t":"0.044"},{"r":"TotRmsAbvGrd","c":"BsmtFinSF2","v":-0.035,"t":"-0.035"},{"r":"TotRmsAbvGrd","c":"BsmtUnfSF","v":0.25,"t":"0.25"},{"r":"TotRmsAbvGrd","c":"TotalBsmtSF","v":0.29,"t":"0.29"},{"r":"TotRmsAbvGrd","c":"1stFlrSF","v":0.41,"t":"0.41"},{"r":"TotRmsAbvGrd","c":"2ndFlrSF","v":0.62,"t":"0.62"},{"r":"TotRmsAbvGrd","c":"LowQualFinSF","v":0.13,"t":"0.13"},{"r":"TotRmsAbvGrd","c":"GrLivArea","v":0.83,"t":"0.83"},{"r":"TotRmsAbvGrd","c":"BedroomAbvGr","v":0.68,"t":"0.68"},{"r":"TotRmsAbvGrd","c":"TotRmsAbvGrd","v":1,"t":"1"},{"r":"TotRmsAbvGrd","c":"GarageYrBlt","v":0.15,"t":"0.15"},{"r":"TotRmsAbvGrd","c":"GarageArea","v":0.34,"t":"0.34"},{"r":"TotRmsAbvGrd","c":"WoodDeckSF","v":0.17,"t":"0.17"},{"r":"TotRmsAbvGrd","c":"OpenPorchSF","v":0.23,"t":"0.23"},{"r":"TotRmsAbvGrd","c":"EnclosedPorch","v":0.0042,"t":"0.0042"},{"r":"TotRmsAbvGrd","c":"3SsnPorch","v":-0.0067,"t":"-0.0067"},{"r":"TotRmsAbvGrd","c":"ScreenPorch","v":0.059,"t":"0.059"},{"r":"TotRmsAbvGrd","c":"PoolArea","v":0.084,"t":"0.084"},{"r":"TotRmsAbvGrd","c":"MiscVal","v":0.025,"t":"0.025"},{"r":"TotRmsAbvGrd","c":"MoSold","v":0.037,"t":"0.037"},{"r":"TotRmsAbvGrd","c":"SalePrice","v":0.53,"t":"0.53"},
{"r":"GarageYrBlt","c":"Id","v":7.2e-05,"t":"7.2e-05"},{"r":"GarageYrBlt","c":"MSSubClass","v":0.085,"t":"0.085"},{"r":"GarageYrBlt","c":"LotFrontage","v":0.07,"t":"0.07"},{"r":"GarageYrBlt","c":"LotArea","v":-0.025,"t":"-0.025"},{"r":"GarageYrBlt","c":"OverallQual","v":0.55,"t":"0.55"},{"r":"GarageYrBlt","c":"OverallCond","v":-0.32,"t":"-0.32"},{"r":"GarageYrBlt","c":"YearBuilt","v":0.83,"t":"0.83"},{"r":"GarageYrBlt","c":"YearRemodAdd","v":0.64,"t":"0.64"},{"r":"GarageYrBlt","c":"MasVnrArea","v":0.25,"t":"0.25"},{"r":"GarageYrBlt","c":"BsmtFinSF1","v":0.15,"t":"0.15"},{"r":"GarageYrBlt","c":"BsmtFinSF2","v":-0.088,"t":"-0.088"},{"r":"GarageYrBlt","c":"BsmtUnfSF","v":0.19,"t":"0.19"},{"r":"GarageYrBlt","c":"TotalBsmtSF","v":0.32,"t":"0.32"},{"r":"GarageYrBlt","c":"1stFlrSF","v":0.23,"t":"0.23"},{"r":"GarageYrBlt","c":"2ndFlrSF","v":0.071,"t":"0.071"},{"r":"GarageYrBlt","c":"LowQualFinSF","v":-0.036,"t":"-0.036"},{"r":"GarageYrBlt","c":"GrLivArea","v":0.23,"t":"0.23"},{"r":"GarageYrBlt","c":"BedroomAbvGr","v":-0.065,"t":"-0.065"},{"r":"GarageYrBlt","c":"TotRmsAbvGrd","v":0.15,"t":"0.15"},{"r":"GarageYrBlt","c":"GarageYrBlt","v":1,"t":"1"},{"r":"GarageYrBlt","c":"GarageArea","v":0.56,"t":"0.56"},{"r":"GarageYrBlt","c":"WoodDeckSF","v":0.22,"t":"0.22"},{"r":"GarageYrBlt","c":"OpenPorchSF","v":0.23,"t":"0.23"},{"r":"GarageYrBlt","c":"EnclosedPorch","v":-0.3,"t":"-0.3"},{"r":"GarageYrBlt","c":"3SsnPorch","v":0.024,"t":"0.024"},{"r":"GarageYrBlt","c":"ScreenPorch","v":-0.075,"t":"-0.075"},{"r":"GarageYrBlt","c":"PoolArea","v":-0.015,"t":"-0.015"},{"r":"GarageYrBlt","c":"MiscVal","v":-0.032,"t":"-0.032"},{"r":"GarageYrBlt","c":"MoSold","v":0.0053,"t":"0.0053"},{"r":"GarageYrBlt","c":"SalePrice","v":0.49,"t":"0.49"},
{"r":"GarageArea","c":"Id","v":0.018,"t":"0.018"},{"r":"GarageArea","c":"MSSubClass","v":-0.099,"t":"-0.099"},{"r":"GarageArea","c":"LotFrontage","v":0.34,"t":"0.34"},{"r":"GarageArea","c":"LotArea","v":0.18,"t":"0.18"},{"r":"GarageArea","c":"OverallQual","v":0.56,"t":"0.56"},{"r":"GarageArea","c":"OverallCond","v":-0.15,"t":"-0.15"},{"r":"GarageArea","c":"YearBuilt","v":0.48,"t":"0.48"},{"r":"GarageArea","c":"YearRemodAdd","v":0.37,"t":"0.37"},{"r":"GarageArea","c":"MasVnrArea","v":0.37,"t":"0.37"},{"r":"GarageArea","c":"BsmtFinSF1","v":0.3,"t":"0.3"},{"r":"GarageArea","c":"BsmtFinSF2","v":-0.018,"t":"-0.018"},{"r":"GarageArea","c":"BsmtUnfSF","v":0.18,"t":"0.18"},{"r":"GarageArea","c":"TotalBsmtSF","v":0.49,"t":"0.49"},{"r":"GarageArea","c":"1stFlrSF","v":0.49,"t":"0.49"},{"r":"GarageArea","c":"2ndFlrSF","v":0.14,"t":"0.14"},{"r":"GarageArea","c":"LowQualFinSF","v":-0.068,"t":"-0.068"},{"r":"GarageArea","c":"GrLivArea","v":0.47,"t":"0.47"},{"r":"GarageArea","c":"BedroomAbvGr","v":0.065,"t":"0.065"},{"r":"GarageArea","c":"TotRmsAbvGrd","v":0.34,"t":"0.34"},{"r":"GarageArea","c":"GarageYrBlt","v":0.56,"t":"0.56"},{"r":"GarageArea","c":"GarageArea","v":1,"t":"1"},{"r":"GarageArea","c":"WoodDeckSF","v":0.22,"t":"0.22"},{"r":"GarageArea","c":"OpenPorchSF","v":0.24,"t":"0.24"},{"r":"GarageArea","c":"EnclosedPorch","v":-0.12,"t":"-0.12"},{"r":"GarageArea","c":"3SsnPorch","v":0.035,"t":"0.035"},{"r":"GarageArea","c":"ScreenPorch","v":0.051,"t":"0.051"},{"r":"GarageArea","c":"PoolArea","v":0.061,"t":"0.061"},{"r":"GarageArea","c":"MiscVal","v":-0.027,"t":"-0.027"},{"r":"GarageArea","c":"MoSold","v":0.028,"t":"0.028"},{"r":"GarageArea","c":"SalePrice","v":0.62,"t":"0.62"},
{"r":"WoodDeckSF","c":"Id","v":-0.03,"t":"-0.03"},{"r":"WoodDeckSF","c":"MSSubClass","v":-0.013,"t":"-0.013"},{"r":"WoodDeckSF","c":"LotFrontage","v":0.089,"t":"0.089"},{"r":"WoodDeckSF","c":"LotArea","v":0.17,"t":"0.17"},{"r":"WoodDeckSF","c":"OverallQual","v":0.24,"t":"0.24"},{"r":"WoodDeckSF","c":"OverallCond","v":-0.0033,"t":"-0.0033"},{"r":"WoodDeckSF","c":"YearBuilt","v":0.22,"t":"0.22"},{"r":"WoodDeckSF","c":"YearRemodAdd","v":0.21,"t":"0.21"},{"r":"WoodDeckSF","c":"MasVnrArea","v":0.16,"t":"0.16"},{"r":"WoodDeckSF","c":"BsmtFinSF1","v":0.2,"t":"0.2"},{"r":"WoodDeckSF","c":"BsmtFinSF2","v":0.068,"t":"0.068"},{"r":"WoodDeckSF","c":"BsmtUnfSF","v":-0.0053,"t":"-0.0053"},{"r":"WoodDeckSF","c":"TotalBsmtSF","v":0.23,"t":"0.23"},{"r":"WoodDeckSF","c":"1stFlrSF","v":0.24,"t":"0.24"},{"r":"WoodDeckSF","c":"2ndFlrSF","v":0.092,"t":"0.092"},{"r":"WoodDeckSF","c":"LowQualFinSF","v":-0.025,"t":"-0.025"},{"r":"WoodDeckSF","c":"GrLivArea","v":0.25,"t":"0.25"},{"r":"WoodDeckSF","c":"BedroomAbvGr","v":0.047,"t":"0.047"},{"r":"WoodDeckSF","c":"TotRmsAbvGrd","v":0.17,"t":"0.17"},{"r":"WoodDeckSF","c":"GarageYrBlt","v":0.22,"t":"0.22"},{"r":"WoodDeckSF","c":"GarageArea","v":0.22,"t":"0.22"},{"r":"WoodDeckSF","c":"WoodDeckSF","v":1,"t":"1"},{"r":"WoodDeckSF","c":"OpenPorchSF","v":0.059,"t":"0.059"},{"r":"WoodDeckSF","c":"EnclosedPorch","v":-0.13,"t":"-0.13"},{"r":"WoodDeckSF","c":"3SsnPorch","v":-0.033,"t":"-0.033"},{"r":"WoodDeckSF","c":"ScreenPorch","v":-0.074,"t":"-0.074"},{"r":"WoodDeckSF","c":"PoolArea","v":0.073,"t":"0.073"},{"r":"WoodDeckSF","c":"MiscVal","v":-0.0096,"t":"-0.0096"},{"r":"WoodDeckSF","c":"MoSold","v":0.021,"t":"0.021"},{"r":"WoodDeckSF","c":"SalePrice","v":0.32,"t":"0.32"},
{"r":"OpenPorchSF","c":"Id","v":-0.00048,"t":"-0.00048"},{"r":"OpenPorchSF","c":"MSSubClass","v":-0.0061,"t":"-0.0061"},{"r":"OpenPorchSF","c":"LotFrontage","v":0.15,"t":"0.15"},{"r":"OpenPorchSF","c":"LotArea","v":0.085,"t":"0.085"},{"r":"OpenPorchSF","c":"OverallQual","v":0.31,"t":"0.31"},{"r":"OpenPorchSF","c":"OverallCond","v":-0.033,"t":"-0.033"},{"r":"OpenPorchSF","c":"YearBuilt","v":0.19,"t":"0.19"},{"r":"OpenPorchSF","c":"YearRemodAdd","v":0.23,"t":"0.23"},{"r":"OpenPorchSF","c":"MasVnrArea","v":0.13,"t":"0.13"},{"r":"OpenPorchSF","c":"BsmtFinSF1","v":0.11,"t":"0.11"},{"r":"OpenPorchSF","c":"BsmtFinSF2","v":0.0031,"t":"0.0031"},{"r":"OpenPorchSF","c":"BsmtUnfSF","v":0.13,"t":"0.13"},{"r":"OpenPorchSF","c":"TotalBsmtSF","v":0.25,"t":"0.25"},{"r":"OpenPorchSF","c":"1stFlrSF","v":0.21,"t":"0.21"},{"r":"OpenPorchSF","c":"2ndFlrSF","v":0.21,"t":"0.21"},{"r":"OpenPorchSF","c":"LowQualFinSF","v":0.018,"t":"0.018"},{"r":"OpenPorchSF","c":"GrLivArea","v":0.33,"t":"0.33"},{"r":"OpenPorchSF","c":"BedroomAbvGr","v":0.094,"t":"0.094"},{"r":"OpenPorchSF","c":"TotRmsAbvGrd","v":0.23,"t":"0.23"},{"r":"OpenPorchSF","c":"GarageYrBlt","v":0.23,"t":"0.23"},{"r":"OpenPorchSF","c":"GarageArea","v":0.24,"t":"0.24"},{"r":"OpenPorchSF","c":"WoodDeckSF","v":0.059,"t":"0.059"},{"r":"OpenPorchSF","c":"OpenPorchSF","v":1,"t":"1"},{"r":"OpenPorchSF","c":"EnclosedPorch","v":-0.093,"t":"-0.093"},{"r":"OpenPorchSF","c":"3SsnPorch","v":-0.0058,"t":"-0.0058"},{"r":"OpenPorchSF","c":"ScreenPorch","v":0.074,"t":"0.074"},{"r":"OpenPorchSF","c":"PoolArea","v":0.061,"t":"0.061"},{"r":"OpenPorchSF","c":"MiscVal","v":-0.019,"t":"-0.019"},{"r":"OpenPorchSF","c":"MoSold","v":0.071,"t":"0.071"},{"r":"OpenPorchSF","c":"SalePrice","v":0.32,"t":"0.32"},
{"r":"EnclosedPorch","c":"Id","v":0.0029,"t":"0.0029"},{"r":"EnclosedPorch","c":"MSSubClass","v":-0.012,"t":"-0.012"},{"r":"EnclosedPorch","c":"LotFrontage","v":0.011,"t":"0.011"},{"r":"EnclosedPorch","c":"LotArea","v":-0.018,"t":"-0.018"},{"r":"EnclosedPorch","c":"OverallQual","v":-0.11,"t":"-0.11"},{"r":"EnclosedPorch","c":"OverallCond","v":0.07,"t":"0.07"},{"r":"EnclosedPorch","c":"YearBuilt","v":-0.39,"t":"-0.39"},{"r":"EnclosedPorch","c":"YearRemodAdd","v":-0.19,"t":"-0.19"},{"r":"EnclosedPorch","c":"MasVnrArea","v":-0.11,"t":"-0.11"},{"r":"EnclosedPorch","c":"BsmtFinSF1","v":-0.1,"t":"-0.1"},{"r":"EnclosedPorch","c":"BsmtFinSF2","v":0.037,"t":"0.037"},{"r":"EnclosedPorch","c":"BsmtUnfSF","v":-0.0025,"t":"-0.0025"},{"r":"EnclosedPorch","c":"TotalBsmtSF","v":-0.095,"t":"-0.095"},{"r":"EnclosedPorch","c":"1stFlrSF","v":-0.065,"t":"-0.065"},{"r":"EnclosedPorch","c":"2ndFlrSF","v":0.062,"t":"0.062"},{"r":"EnclosedPorch","c":"LowQualFinSF","v":0.061,"t":"0.061"},{"r":"EnclosedPorch","c":"GrLivArea","v":0.0091,"t":"0.0091"},{"r":"EnclosedPorch","c":"BedroomAbvGr","v":0.042,"t":"0.042"},{"r":"EnclosedPorch","c":"TotRmsAbvGrd","v":0.0042,"t":"0.0042"},{"r":"EnclosedPorch","c":"GarageYrBlt","v":-0.3,"t":"-0.3"},{"r":"EnclosedPorch","c":"GarageArea","v":-0.12,"t":"-0.12"},{"r":"EnclosedPorch","c":"WoodDeckSF","v":-0.13,"t":"-0.13"},{"r":"EnclosedPorch","c":"OpenPorchSF","v":-0.093,"t":"-0.093"},{"r":"EnclosedPorch","c":"EnclosedPorch","v":1,"t":"1"},{"r":"EnclosedPorch","c":"3SsnPorch","v":-0.037,"t":"-0.037"},{"r":"EnclosedPorch","c":"ScreenPorch","v":-0.083,"t":"-0.083"},{"r":"EnclosedPorch","c":"PoolArea","v":0.054,"t":"0.054"},{"r":"EnclosedPorch","c":"MiscVal","v":0.018,"t":"0.018"},{"r":"EnclosedPorch","c":"MoSold","v":-0.029,"t":"-0.029"},{"r":"EnclosedPorch","c":"SalePrice","v":-0.13,"t":"-0.13"},
{"r":"3SsnPorch","c":"Id","v":-0.047,"t":"-0.047"},{"r":"3SsnPorch","c":"MSSubClass","v":-0.044,"t":"-0.044"},{"r":"3SsnPorch","c":"LotFrontage","v":0.07,"t":"0.07"},{"r":"3SsnPorch","c":"LotArea","v":0.02,"t":"0.02"},{"r":"3SsnPorch","c":"OverallQual","v":0.03,"t":"0.03"},{"r":"3SsnPorch","c":"OverallCond","v":0.026,"t":"0.026"},{"r":"3SsnPorch","c":"YearBuilt","v":0.031,"t":"0.031"},{"r":"3SsnPorch","c":"YearRemodAdd","v":0.045,"t":"0.045"},{"r":"3SsnPorch","c":"MasVnrArea","v":0.019,"t":"0.019"},{"r":"3SsnPorch","c":"BsmtFinSF1","v":0.026,"t":"0.026"},{"r":"3SsnPorch","c":"BsmtFinSF2","v":-0.03,"t":"-0.03"},{"r":"3SsnPorch","c":"BsmtUnfSF","v":0.021,"t":"0.021"},{"r":"3SsnPorch","c":"TotalBsmtSF","v":0.037,"t":"0.037"},{"r":"3SsnPorch","c":"1stFlrSF","v":0.056,"t":"0.056"},{"r":"3SsnPorch","c":"2ndFlrSF","v":-0.024,"t":"-0.024"},{"r":"3SsnPorch","c":"LowQualFinSF","v":-0.0043,"t":"-0.0043"},{"r":"3SsnPorch","c":"GrLivArea","v":0.021,"t":"0.021"},{"r":"3SsnPorch","c":"BedroomAbvGr","v":-0.024,"t":"-0.024"},{"r":"3SsnPorch","c":"TotRmsAbvGrd","v":-0.0067,"t":"-0.0067"},{"r":"3SsnPorch","c":"GarageYrBlt","v":0.024,"t":"0.024"},{"r":"3SsnPorch","c":"GarageArea","v":0.035,"t":"0.035"},{"r":"3SsnPorch","c":"WoodDeckSF","v":-0.033,"t":"-0.033"},{"r":"3SsnPorch","c":"OpenPorchSF","v":-0.0058,"t":"-0.0058"},{"r":"3SsnPorch","c":"EnclosedPorch","v":-0.037,"t":"-0.037"},{"r":"3SsnPorch","c":"3SsnPorch","v":1,"t":"1"},{"r":"3SsnPorch","c":"ScreenPorch","v":-0.031,"t":"-0.031"},{"r":"3SsnPorch","c":"PoolArea","v":-0.008,"t":"-0.008"},{"r":"3SsnPorch","c":"MiscVal","v":0.00035,"t":"0.00035"},{"r":"3SsnPorch","c":"MoSold","v":0.029,"t":"0.029"},{"r":"3SsnPorch","c":"SalePrice","v":0.045,"t":"0.045"},
{"r":"ScreenPorch","c":"Id","v":0.0013,"t":"0.0013"},{"r":"ScreenPorch","c":"MSSubClass","v":-0.026,"t":"-0.026"},{"r":"ScreenPorch","c":"LotFrontage","v":0.041,"t":"0.041"},{"r":"ScreenPorch","c":"LotArea","v":0.043,"t":"0.043"},{"r":"ScreenPorch","c":"OverallQual","v":0.065,"t":"0.065"},{"r":"ScreenPorch","c":"OverallCond","v":0.055,"t":"0.055"},{"r":"ScreenPorch","c":"YearBuilt","v":-0.05,"t":"-0.05"},{"r":"ScreenPorch","c":"YearRemodAdd","v":-0.039,"t":"-0.039"},{"r":"ScreenPorch","c":"MasVnrArea","v":0.061,"t":"0.061"},{"r":"ScreenPorch","c":"BsmtFinSF1","v":0.062,"t":"0.062"},{"r":"ScreenPorch","c":"BsmtFinSF2","v":0.089,"t":"0.089"},{"r":"ScreenPorch","c":"BsmtUnfSF","v":-0.013,"t":"-0.013"},{"r":"ScreenPorch","c":"TotalBsmtSF","v":0.084,"t":"0.084"},{"r":"ScreenPorch","c":"1stFlrSF","v":0.089,"t":"0.089"},{"r":"ScreenPorch","c":"2ndFlrSF","v":0.041,"t":"0.041"},{"r":"ScreenPorch","c":"LowQualFinSF","v":0.027,"t":"0.027"},{"r":"ScreenPorch","c":"GrLivArea","v":0.1,"t":"0.1"},{"r":"ScreenPorch","c":"BedroomAbvGr","v":0.044,"t":"0.044"},{"r":"ScreenPorch","c":"TotRmsAbvGrd","v":0.059,"t":"0.059"},{"r":"ScreenPorch","c":"GarageYrBlt","v":-0.075,"t":"-0.075"},{"r":"ScreenPorch","c":"GarageArea","v":0.051,"t":"0.051"},{"r":"ScreenPorch","c":"WoodDeckSF","v":-0.074,"t":"-0.074"},{"r":"ScreenPorch","c":"OpenPorchSF","v":0.074,"t":"0.074"},{"r":"ScreenPorch","c":"EnclosedPorch","v":-0.083,"t":"-0.083"},{"r":"ScreenPorch","c":"3SsnPorch","v":-0.031,"t":"-0.031"},{"r":"ScreenPorch","c":"ScreenPorch","v":1,"t":"1"},{"r":"ScreenPorch","c":"PoolArea","v":0.051,"t":"0.051"},{"r":"ScreenPorch","c":"MiscVal","v":0.032,"t":"0.032"},{"r":"ScreenPorch","c":"MoSold","v":0.023,"t":"0.023"},{"r":"ScreenPorch","c":"SalePrice","v":0.11,"t":"0.11"},
{"r":"PoolArea","c":"Id","v":0.057,"t":"0.057"},{"r":"PoolArea","c":"MSSubClass","v":0.0083,"t":"0.0083"},{"r":"PoolArea","c":"LotFrontage","v":0.21,"t":"0.21"},{"r":"PoolArea","c":"LotArea","v":0.078,"t":"0.078"},{"r":"PoolArea","c":"OverallQual","v":0.065,"t":"0.065"},{"r":"PoolArea","c":"OverallCond","v":-0.002,"t":"-0.002"},{"r":"PoolArea","c":"YearBuilt","v":0.0049,"t":"0.0049"},{"r":"PoolArea","c":"YearRemodAdd","v":0.0058,"t":"0.0058"},{"r":"PoolArea","c":"MasVnrArea","v":0.012,"t":"0.012"},{"r":"PoolArea","c":"BsmtFinSF1","v":0.14,"t":"0.14"},{"r":"PoolArea","c":"BsmtFinSF2","v":0.042,"t":"0.042"},{"r":"PoolArea","c":"BsmtUnfSF","v":-0.035,"t":"-0.035"},{"r":"PoolArea","c":"TotalBsmtSF","v":0.13,"t":"0.13"},{"r":"PoolArea","c":"1stFlrSF","v":0.13,"t":"0.13"},{"r":"PoolArea","c":"2ndFlrSF","v":0.081,"t":"0.081"},{"r":"PoolArea","c":"LowQualFinSF","v":0.062,"t":"0.062"},{"r":"PoolArea","c":"GrLivArea","v":0.17,"t":"0.17"},{"r":"PoolArea","c":"BedroomAbvGr","v":0.071,"t":"0.071"},{"r":"PoolArea","c":"TotRmsAbvGrd","v":0.084,"t":"0.084"},{"r":"PoolArea","c":"GarageYrBlt","v":-0.015,"t":"-0.015"},{"r":"PoolArea","c":"GarageArea","v":0.061,"t":"0.061"},{"r":"PoolArea","c":"WoodDeckSF","v":0.073,"t":"0.073"},{"r":"PoolArea","c":"OpenPorchSF","v":0.061,"t":"0.061"},{"r":"PoolArea","c":"EnclosedPorch","v":0.054,"t":"0.054"},{"r":"PoolArea","c":"3SsnPorch","v":-0.008,"t":"-0.008"},{"r":"PoolArea","c":"ScreenPorch","v":0.051,"t":"0.051"},{"r":"PoolArea","c":"PoolArea","v":1,"t":"1"},{"r":"PoolArea","c":"MiscVal","v":0.03,"t":"0.03"},{"r":"PoolArea","c":"MoSold","v":-0.034,"t":"-0.034"},{"r":"PoolArea","c":"SalePrice","v":0.092,"t":"0.092"},
{"r":"MiscVal","c":"Id","v":-0.0062,"t":"-0.0062"},{"r":"MiscVal","c":"MSSubClass","v":-0.0077,"t":"-0.0077"},{"r":"MiscVal","c":"LotFrontage","v":0.0034,"t":"0.0034"},{"r":"MiscVal","c":"LotArea","v":0.038,"t":"0.038"},{"r":"MiscVal","c":"OverallQual","v":-0.031,"t":"-0.031"},{"r":"MiscVal","c":"OverallCond","v":0.069,"t":"0.069"},{"r":"MiscVal","c":"YearBuilt","v":-0.034,"t":"-0.034"},{"r":"MiscVal","c":"YearRemodAdd","v":-0.01,"t":"-0.01"},{"r":"MiscVal","c":"MasVnrArea","v":-0.03,"t":"-0.03"},{"r":"MiscVal","c":"BsmtFinSF1","v":0.0036,"t":"0.0036"},{"r":"MiscVal","c":"BsmtFinSF2","v":0.0049,"t":"0.0049"},{"r":"MiscVal","c":"BsmtUnfSF","v":-0.024,"t":"-0.024"},{"r":"MiscVal","c":"TotalBsmtSF","v":-0.018,"t":"-0.018"},{"r":"MiscVal","c":"1stFlrSF","v":-0.021,"t":"-0.021"},{"r":"MiscVal","c":"2ndFlrSF","v":0.016,"t":"0.016"},{"r":"MiscVal","c":"LowQualFinSF","v":-0.0038,"t":"-0.0038"},{"r":"MiscVal","c":"GrLivArea","v":-0.0024,"t":"-0.0024"},{"r":"MiscVal","c":"BedroomAbvGr","v":0.0078,"t":"0.0078"},{"r":"MiscVal","c":"TotRmsAbvGrd","v":0.025,"t":"0.025"},{"r":"MiscVal","c":"GarageYrBlt","v":-0.032,"t":"-0.032"},{"r":"MiscVal","c":"GarageArea","v":-0.027,"t":"-0.027"},{"r":"MiscVal","c":"WoodDeckSF","v":-0.0096,"t":"-0.0096"},{"r":"MiscVal","c":"OpenPorchSF","v":-0.019,"t":"-0.019"},{"r":"MiscVal","c":"EnclosedPorch","v":0.018,"t":"0.018"},{"r":"MiscVal","c":"3SsnPorch","v":0.00035,"t":"0.00035"},{"r":"MiscVal","c":"ScreenPorch","v":0.032,"t":"0.032"},{"r":"MiscVal","c":"PoolArea","v":0.03,"t":"0.03"},{"r":"MiscVal","c":"MiscVal","v":1,"t":"1"},{"r":"MiscVal","c":"MoSold","v":-0.0065,"t":"-0.0065"},{"r":"MiscVal","c":"SalePrice","v":-0.021,"t":"-0.021"},
{"r":"MoSold","c":"Id","v":0.021,"t":"0.021"},{"r":"MoSold","c":"MSSubClass","v":-0.014,"t":"-0.014"},{"r":"MoSold","c":"LotFrontage","v":0.011,"t":"0.011"},{"r":"MoSold","c":"LotArea","v":0.0012,"t":"0.0012"},{"r":"MoSold","c":"OverallQual","v":0.071,"t":"0.071"},{"r":"MoSold","c":"OverallCond","v":-0.0035,"t":"-0.0035"},{"r":"MoSold","c":"YearBuilt","v":0.012,"t":"0.012"},{"r":"MoSold","c":"YearRemodAdd","v":0.021,"t":"0.021"},{"r":"MoSold","c":"MasVnrArea","v":-0.006,"t":"-0.006"},{"r":"MoSold","c":"BsmtFinSF1","v":-0.016,"t":"-0.016"},{"r":"MoSold","c":"BsmtFinSF2","v":-0.015,"t":"-0.015"},{"r":"MoSold","c":"BsmtUnfSF","v":0.035,"t":"0.035"},{"r":"MoSold","c":"TotalBsmtSF","v":0.013,"t":"0.013"},{"r":"MoSold","c":"1stFlrSF","v":0.031,"t":"0.031"},{"r":"MoSold","c":"2ndFlrSF","v":0.035,"t":"0.035"},{"r":"MoSold","c":"LowQualFinSF","v":-0.022,"t":"-0.022"},{"r":"MoSold","c":"GrLivArea","v":0.05,"t":"0.05"},{"r":"MoSold","c":"BedroomAbvGr","v":0.047,"t":"0.047"},{"r":"MoSold","c":"TotRmsAbvGrd","v":0.037,"t":"0.037"},{"r":"MoSold","c":"GarageYrBlt","v":0.0053,"t":"0.0053"},{"r":"MoSold","c":"GarageArea","v":0.028,"t":"0.028"},{"r":"MoSold","c":"WoodDeckSF","v":0.021,"t":"0.021"},{"r":"MoSold","c":"OpenPorchSF","v":0.071,"t":"0.071"},{"r":"MoSold","c":"EnclosedPorch","v":-0.029,"t":"-0.029"},{"r":"MoSold","c":"3SsnPorch","v":0.029,"t":"0.029"},{"r":"MoSold","c":"ScreenPorch","v":0.023,"t":"0.023"},{"r":"MoSold","c":"PoolArea","v":-0.034,"t":"-0.034"},{"r":"MoSold","c":"MiscVal","v":-0.0065,"t":"-0.0065"},{"r":"MoSold","c":"MoSold","v":1,"t":"1"},{"r":"MoSold","c":"SalePrice","v":0.046,"t":"0.046"},
{"r":"SalePrice","c":"Id","v":-0.022,"t":"-0.022"},{"r":"SalePrice","c":"MSSubClass","v":-0.084,"t":"-0.084"},{"r":"SalePrice","c":"LotFrontage","v":0.35,"t":"0.35"},{"r":"SalePrice","c":"LotArea","v":0.26,"t":"0.26"},{"r":"SalePrice","c":"OverallQual","v":0.79,"t":"0.79"},{"r":"SalePrice","c":"OverallCond","v":-0.078,"t":"-0.078"},{"r":"SalePrice","c":"YearBuilt","v":0.52,"t":"0.52"},{"r":"SalePrice","c":"YearRemodAdd","v":0.51,"t":"0.51"},{"r":"SalePrice","c":"MasVnrArea","v":0.48,"t":"0.48"},{"r":"SalePrice","c":"BsmtFinSF1","v":0.39,"t":"0.39"},{"r":"SalePrice","c":"BsmtFinSF2","v":-0.011,"t":"-0.011"},{"r":"SalePrice","c":"BsmtUnfSF","v":0.21,"t":"0.21"},{"r":"SalePrice","c":"TotalBsmtSF","v":0.61,"t":"0.61"},{"r":"SalePrice","c":"1stFlrSF","v":0.61,"t":"0.61"},{"r":"SalePrice","c":"2ndFlrSF","v":0.32,"t":"0.32"},{"r":"SalePrice","c":"LowQualFinSF","v":-0.026,"t":"-0.026"},{"r":"SalePrice","c":"GrLivArea","v":0.71,"t":"0.71"},{"r":"SalePrice","c":"BedroomAbvGr","v":0.17,"t":"0.17"},{"r":"SalePrice","c":"TotRmsAbvGrd","v":0.53,"t":"0.53"},{"r":"SalePrice","c":"GarageYrBlt","v":0.49,"t":"0.49"},{"r":"SalePrice","c":"GarageArea","v":0.62,"t":"0.62"},{"r":"SalePrice","c":"WoodDeckSF","v":0.32,"t":"0.32"},{"r":"SalePrice","c":"OpenPorchSF","v":0.32,"t":"0.32"},{"r":"SalePrice","c":"EnclosedPorch","v":-0.13,"t":"-0.13"},{"r":"SalePrice","c":"3SsnPorch","v":0.045,"t":"0.045"},{"r":"SalePrice","c":"ScreenPorch","v":0.11,"t":"0.11"},{"r":"SalePrice","c":"PoolArea","v":0.092,"t":"0.092"},{"r":"SalePrice","c":"MiscVal","v":-0.021,"t":"-0.021"},{"r":"SalePrice","c":"MoSold","v":0.046,"t":"0.046"},{"r":"SalePrice","c":"SalePrice","v":1,"t":"1"}
]},
"encoding": {
  "x": {"field": "c", "type": "nominal",
    "scale": {"domain": ["Id","MSSubClass","LotFrontage","LotArea","OverallQual","OverallCond","YearBuilt","YearRemodAdd","MasVnrArea","BsmtFinSF1","BsmtFinSF2","BsmtUnfSF","TotalBsmtSF","1stFlrSF","2ndFlrSF","LowQualFinSF","GrLivArea","BedroomAbvGr","TotRmsAbvGrd","GarageYrBlt","GarageArea","WoodDeckSF","OpenPorchSF","EnclosedPorch","3SsnPorch","ScreenPorch","PoolArea","MiscVal","MoSold","SalePrice"], "paddingInner": 0, "paddingOuter": 0},
    "axis": {"title": null, "orient": "bottom", "labelAngle": 0, "domain": false, "grid": false, "ticks": true, "tickSize": 4.6, "tickWidth": 1.1, "tickColor": "black", "labelPadding": 4.6, "labelFontSize": 12.8, "labelFont": "DejaVu Sans", "labelColor": "black", "labelOverlap": false, "labelBound": false, "labelFlush": false, "labelLimit": 0}},
  "y": {"field": "r", "type": "nominal",
    "scale": {"domain": ["Id","MSSubClass","LotFrontage","LotArea","OverallQual","OverallCond","YearBuilt","YearRemodAdd","MasVnrArea","BsmtFinSF1","BsmtFinSF2","BsmtUnfSF","TotalBsmtSF","1stFlrSF","2ndFlrSF","LowQualFinSF","GrLivArea","BedroomAbvGr","TotRmsAbvGrd","GarageYrBlt","GarageArea","WoodDeckSF","OpenPorchSF","EnclosedPorch","3SsnPorch","ScreenPorch","PoolArea","MiscVal","MoSold","SalePrice"], "paddingInner": 0, "paddingOuter": 0},
    "axis": {"title": null, "orient": "left", "domain": false, "grid": false, "ticks": true, "tickSize": 4.6, "tickWidth": 1.1, "tickColor": "black", "labelPadding": 4.6, "labelFontSize": 12.8, "labelFont": "DejaVu Sans", "labelColor": "black", "labelOverlap": false, "labelBound": false, "labelFlush": false, "labelLimit": 0}}
},
"layer": [
  {"mark": {"type": "rect", "strokeWidth": 0},
   "encoding": {"color": {"field": "v", "type": "quantitative",
     "scale": {"domain": [-0.4953, -0.28169, -0.06807, 0.14554, 0.25235, 0.35916, 0.57277, 0.78639, 1], "range": ["#03051a", "#35193e", "#701f57", "#ad1759", "#cb1b4f", "#e13342", "#f37651", "#f6b48f", "#faebdd"], "interpolate": "rgb"},
     "legend": {"title": null, "orient": "right", "offset": 228.5, "direction": "vertical", "type": "gradient", "gradientLength": 2940, "gradientThickness": 147, "gradientStrokeWidth": 0, "values": [-0.4, -0.2, 0, 0.2, 0.4, 0.6, 0.8, 1], "format": ".1f", "labelFontSize": 12.8, "labelFont": "DejaVu Sans", "labelColor": "black", "labelOffset": 10, "labelBaseline": "middle", "labelOverlap": false, "padding": 0}}}},
  {"mark": {"type": "text", "fontSize": 12.8, "font": "DejaVu Sans"},
   "encoding": {"text": {"field": "t", "type": "nominal"},
     "color": {"condition": {"test": "datum.v >= 0.66", "value": "#262626"}, "value": "white"}}}
]
}
